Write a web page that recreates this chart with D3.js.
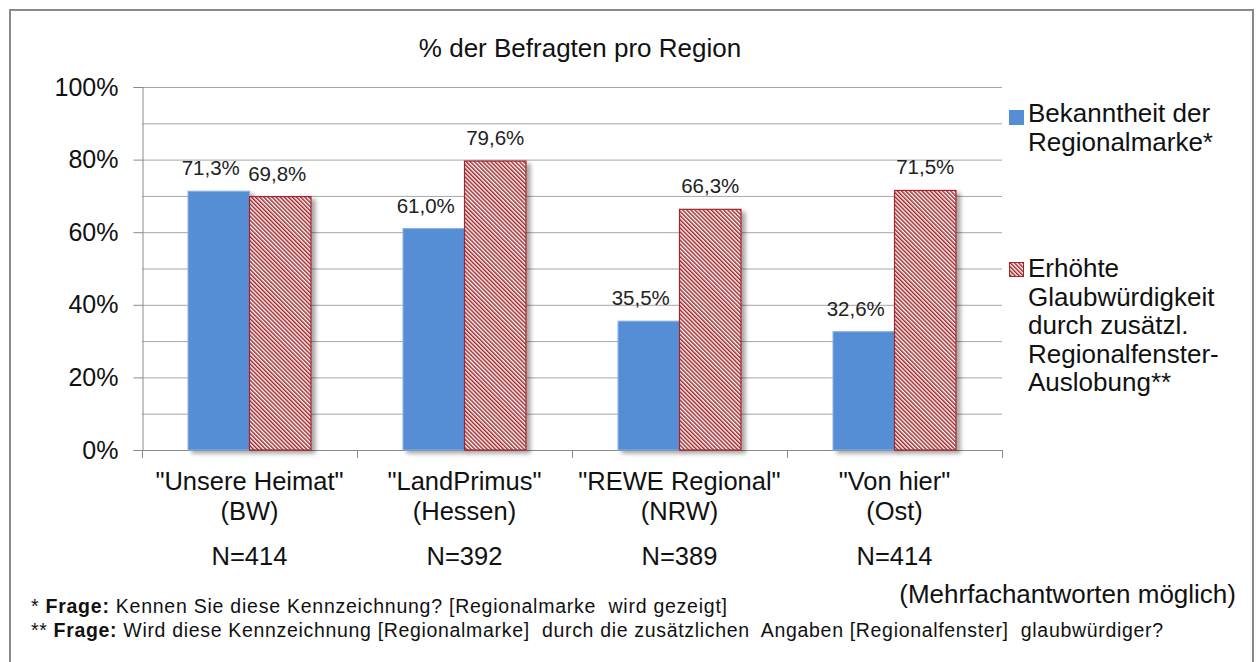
<!DOCTYPE html>
<html><head><meta charset="utf-8">
<script src="https://cdn.jsdelivr.net/npm/d3@7/dist/d3.min.js"></script>
<style>body{margin:0;background:#fff}svg{display:block;font-family:"Liberation Sans",Arial,sans-serif}text{white-space:pre}</style>
</head><body><svg id="c" width="1257" height="662"></svg>
<script>
const categories = ['"Unsere Heimat"|(BW)', '"LandPrimus"|(Hessen)', '"REWE Regional"|(NRW)', '"Von hier"|(Ost)'];
const nLabels = ["N=414", "N=392", "N=389", "N=414"];
const bekanntheit = [71.3, 61.0, 35.5, 32.6];
const glaubwuerdigkeit = [69.8, 79.6, 66.3, 71.5];
const yTicks = [0, 20, 40, 60, 80, 100];
const gridTicks = [10, 20, 30, 40, 50, 60, 70, 80, 90, 100];
const seriesNames = [["Bekanntheit der", "Regionalmarke*"], ["Erhöhte", "Glaubwürdigkeit", "durch zusätzl.", "Regionalfenster-", "Auslobung**"]];
const title = "% der Befragten pro Region";

const svg = d3.select("#c");
const defs = svg.append("defs");
const pat = defs.append("pattern").attr("id","hatch").attr("patternUnits","userSpaceOnUse")
  .attr("width",2.9).attr("height",8).attr("patternTransform","rotate(-45)");
pat.append("rect").attr("width",2.9).attr("height",8).attr("fill","#fff");
pat.append("rect").attr("width",1.5).attr("height",8).attr("fill","#a0282d");
const f = defs.append("filter").attr("id","sh").attr("x","-20%").attr("y","-20%").attr("width","150%").attr("height","150%");
f.append("feDropShadow").attr("dx",4).attr("dy",3).attr("stdDeviation",2.2).attr("flood-color","#000").attr("flood-opacity",0.35);

svg.append("rect").attr("x",10).attr("y",10).attr("width",1243).attr("height",670)
  .attr("fill","none").attr("stroke","#8a8a8a").attr("stroke-width",2);

const x0 = 142, x1 = 1002, yTop = 87, yBot = 450;
const x = d3.scaleBand().domain(d3.range(categories.length)).range([x0, x1]);
const y = d3.scaleLinear().domain([0, 100]).range([yBot, yTop]);
const bw = 61.5;

// gridlines
svg.append("g").selectAll("line").data(gridTicks).join("line")
  .attr("x1",x0).attr("x2",x1).attr("y1",d=>y(d)+0.5).attr("y2",d=>y(d)+0.5)
  .attr("stroke","#a6a6a6").attr("stroke-width",1);

// y axis
const ya = svg.append("g").attr("transform",`translate(${x0+0.5},0)`)
  .call(d3.axisLeft(y).tickValues(yTicks).tickSize(9).tickPadding(15).tickFormat(d=>d+"%"));
ya.select(".domain").attr("stroke","#8a8a8a");
ya.selectAll(".tick line").attr("stroke","#8a8a8a");
ya.selectAll("text").attr("font-size",25).attr("fill","#111").attr("font-family","Liberation Sans, Arial, sans-serif");

// x axis
svg.append("line").attr("x1",x0).attr("x2",x1).attr("y1",yBot+0.5).attr("y2",yBot+0.5).attr("stroke","#8a8a8a");
svg.append("g").selectAll("line").data(d3.range(categories.length+1)).join("line")
  .attr("x1",d=>Math.round(x0 + d*x.step())+0.5).attr("x2",d=>Math.round(x0 + d*x.step())+0.5)
  .attr("y1",yBot).attr("y2",yBot+8).attr("stroke","#8a8a8a");

const g = svg.append("g");
categories.forEach((c,i)=>{
  const cx = x(i) + x.bandwidth()/2;
  g.append("rect").attr("x",cx-bw).attr("y",y(bekanntheit[i])).attr("width",bw).attr("height",yBot-y(bekanntheit[i]))
    .attr("fill","#558ed5").attr("stroke","#8db3e2").attr("stroke-width",1).attr("filter","url(#sh)");
  g.append("rect").attr("x",cx).attr("y",y(glaubwuerdigkeit[i])).attr("width",bw).attr("height",yBot-y(glaubwuerdigkeit[i]))
    .attr("fill","url(#hatch)").attr("stroke","#a0282d").attr("stroke-width",1.2).attr("filter","url(#sh)");
  const fmt = v => v.toFixed(1).replace(".", ",") + "%";
  g.append("text").attr("x",cx-bw/2-8).attr("y",y(bekanntheit[i])-16).attr("text-anchor","middle")
    .attr("font-size",20.5).attr("fill","#222").text(fmt(bekanntheit[i]));
  g.append("text").attr("x",cx+bw/2-(i===0?3:0)).attr("y",y(glaubwuerdigkeit[i])-16).attr("text-anchor","middle")
    .attr("font-size",20.5).attr("fill","#222").text(fmt(glaubwuerdigkeit[i]));
  const lines = c.split("|");
  lines.forEach((l,j)=>{
    g.append("text").attr("x",cx).attr("y",490+j*30).attr("text-anchor","middle")
      .attr("font-size",25.5).attr("fill","#111").text(l);
  });
  g.append("text").attr("x",cx).attr("y",565).attr("text-anchor","middle")
    .attr("font-size",25.5).attr("fill","#111").text(nLabels[i]);
});

// title
svg.append("text").attr("x",580).attr("y",57).attr("text-anchor","middle").attr("font-size",26).attr("fill","#111").text(title);

// legend
const lg = svg.append("g");
lg.append("rect").attr("x",1009).attr("y",110).attr("width",15).attr("height",15).attr("fill","#558ed5");
seriesNames[0].forEach((t,j)=>lg.append("text").attr("x",1028).attr("y",122+j*28.5).attr("font-size",26).attr("fill","#111").text(t));
lg.append("rect").attr("x",1009.5).attr("y",262.5).attr("width",14).attr("height",14).attr("fill","url(#hatch)").attr("stroke","#a0282d").attr("stroke-width",1);
seriesNames[1].forEach((t,j)=>lg.append("text").attr("x",1028).attr("y",277+j*28.5).attr("font-size",26).attr("fill","#111").text(t));

// notes
svg.append("text").attr("x",1236).attr("y",603).attr("text-anchor","end").attr("font-size",26).attr("fill","#111").text("(Mehrfachantworten möglich)");
const n1 = svg.append("text").attr("x",31).attr("y",613).attr("font-size",19.5).attr("fill","#111")
  .attr("textLength",696).attr("lengthAdjust","spacing");
n1.append("tspan").text("* ");
n1.append("tspan").attr("font-weight","bold").text("Frage:");
n1.append("tspan").text(" Kennen Sie diese Kennzeichnung? [Regionalmarke  wird gezeigt]");
const n2 = svg.append("text").attr("x",31).attr("y",637).attr("font-size",19.5).attr("fill","#111")
  .attr("textLength",1132).attr("lengthAdjust","spacing");
n2.append("tspan").text("** ");
n2.append("tspan").attr("font-weight","bold").text("Frage:");
n2.append("tspan").text(" Wird diese Kennzeichnung [Regionalmarke]  durch die zusätzlichen  Angaben [Regionalfenster]  glaubwürdiger?");
</script></body></html>
